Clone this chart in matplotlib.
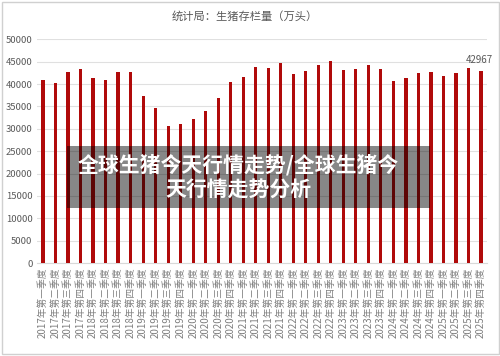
import matplotlib
matplotlib.use("Agg")
import matplotlib.pyplot as plt
from matplotlib.patches import Rectangle

plt.rcParams['font.family'] = ['Noto Sans CJK SC', 'DejaVu Sans']

years = [2017, 2018, 2019, 2020, 2021, 2022, 2023, 2024, 2025]
quarters = ['一', '二', '三', '四']
categories = [f"{y}年第{q}季度" for y in years for q in quarters]
values = [41000, 40330, 42790, 43300, 41450, 40850, 42790, 42790,
          37430, 34670, 30580, 30960, 32080, 33930, 36990, 40560,
          41520, 43820, 43680, 44800, 42190, 42920, 44350, 45160,
          43080, 43460, 44200, 43370, 40690, 41450, 42570, 42630,
          41740, 42410, 43600, 42967]
yticks = [0, 5000, 10000, 15000, 20000, 25000, 30000, 35000, 40000, 45000, 50000]
title = "统计局：生猪存栏量（万头）"
overlay = "全球生猪今天行情走势/全球生猪今\n天行情走势分析"

fig = plt.figure(figsize=(5, 3.56), dpi=100)
ax = fig.add_axes([0.0734, 0.2612, 0.9012, 0.6284])
x = list(range(len(values)))
ax.bar(x, values, width=0.25, color='#B00A0A', zorder=3)
ax.set_xlim(-0.5, len(values) - 0.5)
ax.set_ylim(0, 50000)
ax.set_yticks(yticks)
ax.set_yticklabels([str(v) for v in yticks], fontsize=6.8, color='#595959')
ax.set_xticks(x)
ax.set_xticklabels(categories, rotation=90, fontsize=7.0, color='#7f7f7f')
ax.tick_params(axis='both', length=0, pad=3)
ax.grid(axis='y', color='#E0E0E0', linewidth=0.8, zorder=0)
for s in ['top', 'right', 'left']:
    ax.spines[s].set_visible(False)
ax.spines['bottom'].set_color('#D9D9D9')
ax.text(x[-1] - 0.15, values[-1] + 1300, f"{values[-1]}", ha='center', va='bottom',
        fontsize=7.0, color='#595959')

fig.text(0.49, 0.955, title, ha='center', va='center', fontsize=8.1, color='#595959')

# figure border
fig.patches.append(Rectangle((0.003, 0.006), 0.994, 0.988, transform=fig.transFigure,
                             fill=False, edgecolor='#D0D0D0', linewidth=1.0))

# overlay box
fig.patches.append(Rectangle((67 / 500, 1 - 208 / 356), (430 - 67) / 500, (208 - 146) / 356,
                             transform=fig.transFigure, facecolor='black', alpha=0.47,
                             edgecolor='none', zorder=10))
fig.text(238 / 500, 1 - 177 / 356, overlay, ha='center', va='center', fontsize=15,
         color='white', fontweight='bold', linespacing=1.2, zorder=11)

fig.savefig('out.png', dpi=100)
